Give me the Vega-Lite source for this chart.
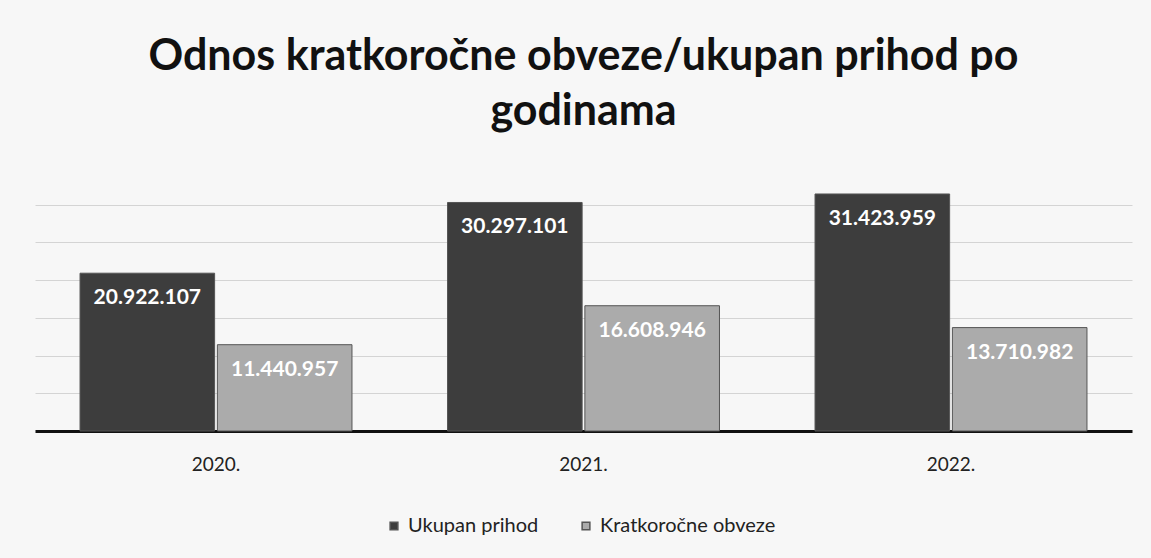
{
  "$schema": "https://vega.github.io/schema/vega-lite/v6.json",
  "width": 1097,
  "height": 264,
  "autosize": {"type": "none"},
  "padding": {"left": 35, "top": 167, "right": 19, "bottom": 127},
  "background": "#f7f7f7",
  "title": {
    "text": ["Odnos kratkoročne obveze/ukupan prihod po", "godinama"],
    "font": "Lato",
    "fontSize": 43,
    "fontWeight": "bold",
    "color": "#111111",
    "lineHeight": 55,
    "anchor": "middle",
    "offset": 33
  },
  "config": {
    "view": {"stroke": null},
    "font": "Lato"
  },
  "data": {
    "values": [
      {"godina": "2020.", "serija": "Ukupan prihod", "iznos": 20922107, "oznaka": "20.922.107"},
      {"godina": "2020.", "serija": "Kratkoročne obveze", "iznos": 11440957, "oznaka": "11.440.957"},
      {"godina": "2021.", "serija": "Ukupan prihod", "iznos": 30297101, "oznaka": "30.297.101"},
      {"godina": "2021.", "serija": "Kratkoročne obveze", "iznos": 16608946, "oznaka": "16.608.946"},
      {"godina": "2022.", "serija": "Ukupan prihod", "iznos": 31423959, "oznaka": "31.423.959"},
      {"godina": "2022.", "serija": "Kratkoročne obveze", "iznos": 13710982, "oznaka": "13.710.982"}
    ]
  },
  "encoding": {
    "x": {
      "field": "godina", "type": "nominal", "sort": null,
      "scale": {"paddingInner": 0.26, "paddingOuter": 0.1225},
      "axis": {
        "title": null, "labelAngle": 0, "ticks": false,
        "domainColor": "#111111", "domainWidth": 3,
        "labelFontSize": 19, "labelColor": "#222222", "labelPadding": 24,
        "labelFont": "Lato"
      }
    },
    "xOffset": {
      "field": "serija", "type": "nominal",
      "sort": ["Ukupan prihod", "Kratkoročne obveze"],
      "scale": {"paddingInner": 0.02}
    },
    "y": {
      "field": "iznos", "type": "quantitative",
      "scale": {"domain": [0, 35000000], "nice": false},
      "axis": {
        "title": null, "labels": false, "ticks": false, "domain": false,
        "values": [5000000, 10000000, 15000000, 20000000, 25000000, 30000000],
        "gridColor": "#d4d4d4", "gridWidth": 1
      }
    }
  },
  "layer": [
    {
      "mark": {"type": "bar", "stroke": "#555555", "strokeWidth": 1},
      "encoding": {
        "color": {
          "field": "serija", "type": "nominal",
          "sort": ["Ukupan prihod", "Kratkoročne obveze"],
          "scale": {"domain": ["Ukupan prihod", "Kratkoročne obveze"], "range": ["#3d3d3d", "#ababab"]},
          "legend": {
            "orient": "none", "direction": "horizontal", "title": null,
            "legendX": 349, "legendY": 349,
            "symbolType": "square", "symbolSize": 60, "labelFontSize": 20,
            "labelColor": "#222222", "columnPadding": 37, "labelLimit": 400,
            "labelFont": "Lato"
          }
        }
      }
    },
    {
      "mark": {"type": "text", "color": "white", "fontSize": 21, "fontWeight": "bold", "baseline": "middle", "dy": 25, "font": "Lato"},
      "encoding": {"text": {"field": "oznaka"}}
    }
  ]
}
